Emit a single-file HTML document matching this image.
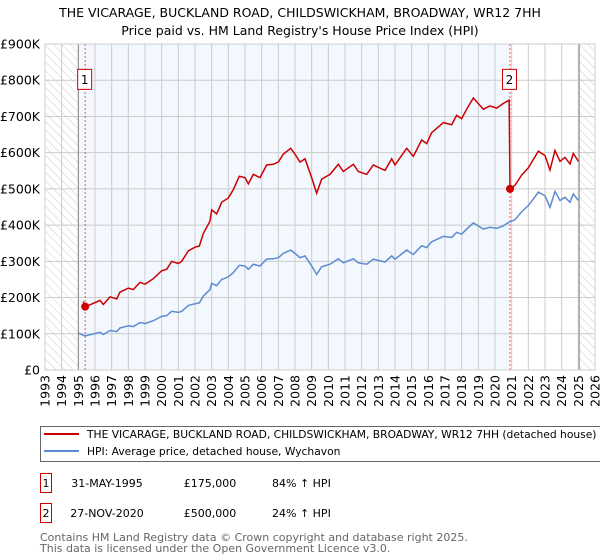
<!DOCTYPE html>
<html><head><meta charset="utf-8">
<style>
body{margin:0;background:#fff;font-family:"Liberation Sans","DejaVu Sans",sans-serif;}
#wrap{position:relative;width:600px;height:560px;overflow:hidden;}
svg text{font-family:"DejaVu Sans","Liberation Sans",sans-serif;}
</style></head>
<body>
<div id="wrap">
<svg id="chart" width="600" height="560"></svg>
</div>
<script>
const hpiYears=[1995.0,1995.4,1996.3,1996.5,1996.9,1997.3,1997.5,1998.0,1998.3,1998.7,1999.0,1999.5,2000.0,2000.3,2000.6,2001.0,2001.2,2001.6,2002.0,2002.26,2002.5,2002.9,2003.0,2003.3,2003.6,2004.0,2004.3,2004.66,2005.0,2005.2,2005.5,2005.9,2006.3,2006.7,2007.0,2007.3,2007.74,2008.0,2008.3,2008.6,2009.0,2009.3,2009.6,2010.1,2010.6,2010.9,2011.5,2011.8,2012.3,2012.7,2013.4,2013.8,2014.0,2014.7,2015.1,2015.6,2015.9,2016.2,2016.9,2017.4,2017.7,2018.0,2018.3,2018.7,2019.3,2019.7,2020.1,2020.5,2020.8,2021.2,2021.6,2022.0,2022.3,2022.6,2023.0,2023.3,2023.6,2023.9,2024.2,2024.5,2024.7,2025.0];
const hpiValues=[102,94,104,98,109,106,116,122,120,131,128,136,148,150,162,159,162,178,183,185,204,222,239,233,250,257,269,289,287,278,292,287,306,307,310,322,331,322,310,315,287,264,285,292,307,296,307,296,292,306,298,315,306,331,319,343,338,354,369,366,380,375,389,406,389,394,391,398,407,415,437,454,472,491,481,449,493,468,477,463,486,468];
const priceYears=[1995.3,1995.4,1996.3,1996.5,1996.9,1997.3,1997.5,1998.0,1998.3,1998.7,1999.0,1999.5,2000.0,2000.3,2000.6,2001.0,2001.2,2001.6,2002.0,2002.26,2002.5,2002.9,2003.0,2003.3,2003.6,2004.0,2004.3,2004.66,2005.0,2005.2,2005.5,2005.9,2006.3,2006.7,2007.0,2007.3,2007.74,2008.0,2008.3,2008.6,2009.0,2009.3,2009.6,2010.1,2010.6,2010.9,2011.5,2011.8,2012.3,2012.7,2013.4,2013.8,2014.0,2014.7,2015.1,2015.6,2015.9,2016.2,2016.9,2017.4,2017.7,2018.0,2018.3,2018.7,2019.3,2019.7,2020.1,2020.5,2020.85,2020.9,2021.2,2021.6,2022.0,2022.3,2022.6,2023.0,2023.3,2023.6,2023.9,2024.2,2024.5,2024.7,2025.0];
const priceValues=[189,174,192,181,202,196,215,226,222,242,237,252,274,278,300,294,300,329,339,342,377,411,442,431,463,475,498,535,531,514,540,531,566,568,574,596,612,596,574,583,531,488,527,540,568,548,568,548,540,566,551,583,566,612,590,635,625,655,683,677,703,694,720,751,720,729,723,736,745,500,510,538,558,581,604,592,552,606,576,587,569,598,576];
const saleYears=[1995.41,2020.9];
const saleValues=[175,500];
const saleLabels=["1","2"];
const yTicks=[0,100,200,300,400,500,600,700,800,900];
const yTickLabels=["£0","£100K","£200K","£300K","£400K","£500K","£600K","£700K","£800K","£900K"];
const xTicks=[1993,1994,1995,1996,1997,1998,1999,2000,2001,2002,2003,2004,2005,2006,2007,2008,2009,2010,2011,2012,2013,2014,2015,2016,2017,2018,2019,2020,2021,2022,2023,2024,2025,2026];

const NS="http://www.w3.org/2000/svg";
const svg=document.getElementById('chart');
const L=45,R=595,T=44,B=370;
const x=v=>L+(v-1993)/(2026-1993)*(R-L);
const y=v=>B-v/900*(B-T);
function mk(tag,attrs,parent){const e=document.createElementNS(NS,tag);for(const k in attrs)e.setAttribute(k,attrs[k]);(parent||svg).appendChild(e);return e;}

const defs=mk('defs',{});
const pat=mk('pattern',{id:'hatch',width:6,height:6,patternUnits:'userSpaceOnUse',patternTransform:'rotate(-45)'},defs);
mk('line',{x1:0,y1:0,x2:0,y2:6,stroke:'#ccc','stroke-width':1},pat);

let e;
e=mk('rect',{x:L,y:T,width:R-L,height:B-T,fill:'#fff'});

e=mk('rect',{x:x(1995),y:T,width:x(2020.9)-x(1995),height:B-T,fill:'#eef3fd',opacity:0.7});

e=mk('rect',{x:L,y:T,width:x(1995)-L,height:B-T,fill:'url(#hatch)'});

e=mk('rect',{x:x(2025.05),y:T,width:R-x(2025.05),height:B-T,fill:'url(#hatch)'});


yTicks.forEach((t,i)=>{
  const g=mk('line',{x1:L,x2:R,y1:y(t),y2:y(t),stroke:'#ccc','stroke-width':1});
  
  const tx=mk('text',{x:40,y:y(t)+4.5,'text-anchor':'end','font-size':12.5,fill:'#000'});
  tx.textContent=yTickLabels[i];
  
});
xTicks.forEach(t=>{
  const g=mk('line',{x1:x(t),x2:x(t),y1:T,y2:B,stroke:'#ccc','stroke-width':1});
  
  const tx=mk('text',{x:0,y:0,'text-anchor':'end','font-size':12.5,fill:'#000',transform:`translate(${x(t)+4.5},375) rotate(-90)`});
  tx.textContent=t;
  
});
e=mk('line',{x1:x(1995),x2:x(1995),y1:T,y2:B,stroke:'#888','stroke-width':1});

e=mk('line',{x1:x(2025.05),x2:x(2025.05),y1:T,y2:B,stroke:'#888','stroke-width':1});


saleYears.forEach((s,i)=>{
  const l=mk('line',{x1:x(s),x2:x(s),y1:T,y2:B,stroke:'#f05050','stroke-width':1,'stroke-dasharray':'2,2'});
  
});

const hp=mk('polyline',{points:hpiYears.map((v,i)=>x(v)+','+y(hpiValues[i])).join(' '),fill:'none',stroke:'#5b8bd0','stroke-width':1.5});

const pp=mk('polyline',{points:priceYears.map((v,i)=>x(v)+','+y(priceValues[i])).join(' '),fill:'none',stroke:'#cc0000','stroke-width':1.5});


saleYears.forEach((s,i)=>{
  const c=mk('circle',{cx:x(s),cy:y(saleValues[i]),r:4,fill:'#cc0000'});
  
  const bx=x(s)-7, by=y(830);
  const r=mk('rect',{x:bx-0.5,y:by,width:14,height:20,fill:'#fff',stroke:'#cc0000','stroke-width':1});
  
  const t=mk('text',{x:bx+6.5,y:by+14.5,'text-anchor':'middle','font-size':12,fill:'#000'});
  t.textContent=saleLabels[i];
  
});
e=mk('rect',{x:L,y:T,width:R-L,height:B-T,fill:'none',stroke:'#ccc'});


function txt(s,a,name){const t=mk('text',a);t.textContent=s;return t;}
txt('THE VICARAGE, BUCKLAND ROAD, CHILDSWICKHAM, BROADWAY, WR12 7HH',{x:300,y:17,'text-anchor':'middle','font-size':12.5},'chart-title');
txt("Price paid vs. HM Land Registry's House Price Index (HPI)",{x:300,y:35,'text-anchor':'middle','font-size':12.5},'chart-subtitle');

e=mk('rect',{x:40.5,y:426.5,width:570,height:35,fill:'#fff',stroke:'#666'});

e=mk('line',{x1:44,x2:79,y1:434,y2:434,stroke:'#cc0000','stroke-width':2});

txt('THE VICARAGE, BUCKLAND ROAD, CHILDSWICKHAM, BROADWAY, WR12 7HH (detached house)',{x:87,y:438,'font-size':10.7},'legend-entry-price');
e=mk('line',{x1:44,x2:79,y1:451,y2:451,stroke:'#5b8bd0','stroke-width':2});

txt('HPI: Average price, detached house, Wychavon',{x:87,y:455,'font-size':10.7},'legend-entry-hpi');

[['1','31-MAY-1995','£175,000','84% ↑ HPI',483],['2','27-NOV-2020','£500,000','24% ↑ HPI',513]].forEach(r=>{
  e=mk('rect',{x:40.5,y:r[4]-9.5,width:11,height:19,fill:'#fff',stroke:'#cc0000'});
  
  txt(r[0],{x:46,y:r[4]+4,'text-anchor':'middle','font-size':11},'table-marker-label');
  txt(r[1],{x:107,y:r[4]+4,'text-anchor':'middle','font-size':11},'table-date');
  txt(r[2],{x:210,y:r[4]+4,'text-anchor':'middle','font-size':11},'table-price');
  txt(r[3],{x:272,y:r[4]+4,'font-size':11},'table-hpi-change');
});
txt('Contains HM Land Registry data © Crown copyright and database right 2025.',{x:40,y:541,'font-size':11,fill:'#666'},'footer-copyright');
txt('This data is licensed under the Open Government Licence v3.0.',{x:40,y:552,'font-size':11,fill:'#666'},'footer-licence');
</script>
</body></html>
